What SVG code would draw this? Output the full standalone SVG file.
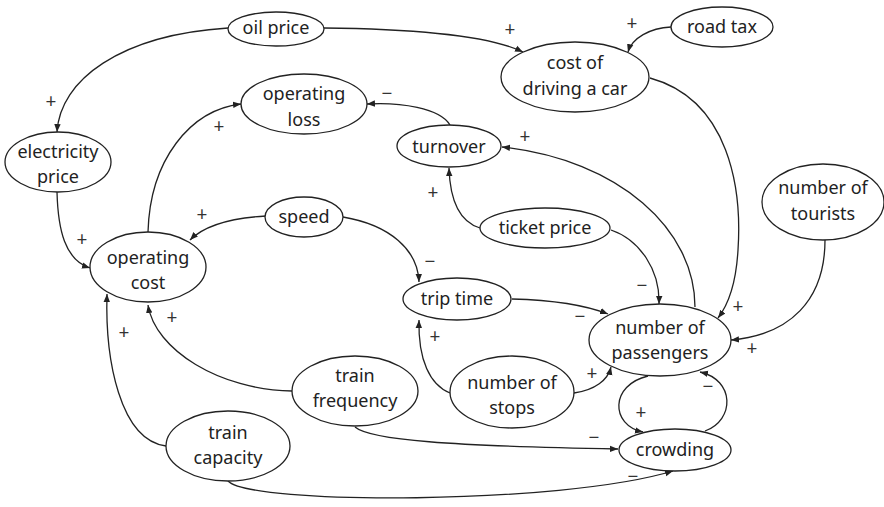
<svg xmlns="http://www.w3.org/2000/svg" width="884" height="507" viewBox="0 0 884 507">
  <style>
    .node ellipse { fill: #fff; stroke: #222; stroke-width: 1.3; }
    .node text { font-family: "Noto Sans", "Open Sans", sans-serif; font-size: 18px; fill: #222; text-anchor: middle; }
    .edge { fill: none; stroke: #222; stroke-width: 1.3; marker-end: url(#arrow); }
    .sign { font-family: "Noto Sans", "Open Sans", sans-serif; font-size: 19px; fill: #333; text-anchor: middle; }
  </style>
  <defs>
    <marker id="arrow" viewBox="0 0 10 10" refX="10" refY="5" markerWidth="8" markerHeight="8" markerUnits="userSpaceOnUse" orient="auto">
      <path d="M0,1 L10,5 L0,9 Z" fill="#222"/>
    </marker>
  </defs>
  <rect width="884" height="507" fill="#fff"/>

  <!-- causal links -->
  <g id="connectors">
    <path class="edge" d="M228,28 C 120,35 60,80 57,132"/>
    <path class="edge" d="M324,28 C 420,29 490,36 523,52"/>
    <path class="edge" d="M671,27 C 650,28 632,38 628,52"/>
    <path class="edge" d="M650,78 C 730,100 742,190 738,250 C 736,285 728,305 718,318"/>
    <path class="edge" d="M825,240 C 825,300 790,335 731,340"/>
    <path class="edge" d="M695,307 C 695,230 620,160 502,147"/>
    <path class="edge" d="M480,228 C 460,222 450,200 449,168"/>
    <path class="edge" d="M611,230 C 640,240 660,270 659,304"/>
    <path class="edge" d="M450,125 C 440,108 400,102 367,104"/>
    <path class="edge" d="M148,232 C 150,160 190,110 241,104"/>
    <path class="edge" d="M57,192 C 58,230 65,260 90,268"/>
    <path class="edge" d="M266,216 C 230,218 205,225 190,240"/>
    <path class="edge" d="M343,217 C 390,225 418,250 419,282"/>
    <path class="edge" d="M512,299 C 550,300 585,305 608,314"/>
    <path class="edge" d="M450,393 C 430,385 418,360 419,320"/>
    <path class="edge" d="M574,393 C 595,390 608,380 611,367"/>
    <path class="edge" d="M648,376 C 610,385 610,425 643,432"/>
    <path class="edge" d="M705,431 C 735,420 735,380 700,372"/>
    <path class="edge" d="M292,391 C 220,390 155,350 148,305"/>
    <path class="edge" d="M166,446 C 120,440 105,360 107,294"/>
    <path class="edge" d="M355,427 C 370,440 450,446 618,449"/>
    <path class="edge" d="M228,481 C 250,505 560,505 673,471"/>
  </g>

  <!-- polarity signs -->
  <g id="signs">
    <text class="sign" x="51" y="108">+</text>
    <text class="sign" x="510" y="36">+</text>
    <text class="sign" x="632" y="30">+</text>
    <text class="sign" x="738" y="313">+</text>
    <text class="sign" x="752" y="355">+</text>
    <text class="sign" x="525" y="143">+</text>
    <text class="sign" x="433" y="199">+</text>
    <text class="sign" x="642" y="292">−</text>
    <text class="sign" x="387" y="100">−</text>
    <text class="sign" x="219" y="133">+</text>
    <text class="sign" x="82" y="246">+</text>
    <text class="sign" x="202" y="221">+</text>
    <text class="sign" x="430" y="268">−</text>
    <text class="sign" x="580" y="323">−</text>
    <text class="sign" x="435" y="343">+</text>
    <text class="sign" x="592" y="380">+</text>
    <text class="sign" x="641" y="419">+</text>
    <text class="sign" x="708" y="393">−</text>
    <text class="sign" x="172" y="324">+</text>
    <text class="sign" x="124" y="339">+</text>
    <text class="sign" x="594" y="444">−</text>
    <text class="sign" x="633" y="483">−</text>
  </g>

  <g id="oil-price" class="node">
    <ellipse cx="276" cy="29" rx="48" ry="17"/>
    <text x="276" y="34">oil price</text>
  </g>
  <g id="road-tax" class="node">
    <ellipse cx="722" cy="27" rx="51" ry="20"/>
    <text x="722" y="33">road tax</text>
  </g>
  <g id="cost-of-driving" class="node">
    <ellipse cx="575" cy="77" rx="74" ry="35"/>
    <text x="575" y="69">cost of</text>
    <text x="575" y="95">driving a car</text>
  </g>
  <g id="operating-loss" class="node">
    <ellipse cx="304" cy="104" rx="63" ry="30"/>
    <text x="304" y="100">operating</text>
    <text x="304" y="126">loss</text>
  </g>
  <g id="turnover" class="node">
    <ellipse cx="449" cy="146" rx="52" ry="21"/>
    <text x="449" y="153">turnover</text>
  </g>
  <g id="electricity-price" class="node">
    <ellipse cx="58" cy="162" rx="53" ry="30"/>
    <text x="58" y="158">electricity</text>
    <text x="58" y="183">price</text>
  </g>
  <g id="number-of-tourists" class="node">
    <ellipse cx="823" cy="202" rx="61" ry="38"/>
    <text x="823" y="194">number of</text>
    <text x="823" y="220">tourists</text>
  </g>
  <g id="ticket-price" class="node">
    <ellipse cx="545" cy="228" rx="65" ry="20"/>
    <text x="545" y="234">ticket price</text>
  </g>
  <g id="speed" class="node">
    <ellipse cx="304" cy="217" rx="39" ry="20"/>
    <text x="304" y="223">speed</text>
  </g>
  <g id="operating-cost" class="node">
    <ellipse cx="148" cy="267" rx="58" ry="35"/>
    <text x="148" y="264">operating</text>
    <text x="148" y="289">cost</text>
  </g>
  <g id="trip-time" class="node">
    <ellipse cx="457" cy="299" rx="54" ry="21"/>
    <text x="457" y="305">trip time</text>
  </g>
  <g id="number-of-passengers" class="node">
    <ellipse cx="660" cy="340" rx="71" ry="36"/>
    <text x="660" y="334">number of</text>
    <text x="660" y="359">passengers</text>
  </g>
  <g id="number-of-stops" class="node">
    <ellipse cx="512" cy="392" rx="62" ry="36"/>
    <text x="512" y="389">number of</text>
    <text x="512" y="414">stops</text>
  </g>
  <g id="train-frequency" class="node">
    <ellipse cx="355" cy="391" rx="63" ry="35"/>
    <text x="355" y="382">train</text>
    <text x="355" y="407">frequency</text>
  </g>
  <g id="train-capacity" class="node">
    <ellipse cx="228" cy="446" rx="62" ry="35"/>
    <text x="228" y="439">train</text>
    <text x="228" y="464">capacity</text>
  </g>
  <g id="crowding" class="node">
    <ellipse cx="675" cy="450" rx="56" ry="21"/>
    <text x="675" y="456">crowding</text>
  </g>
</svg>
